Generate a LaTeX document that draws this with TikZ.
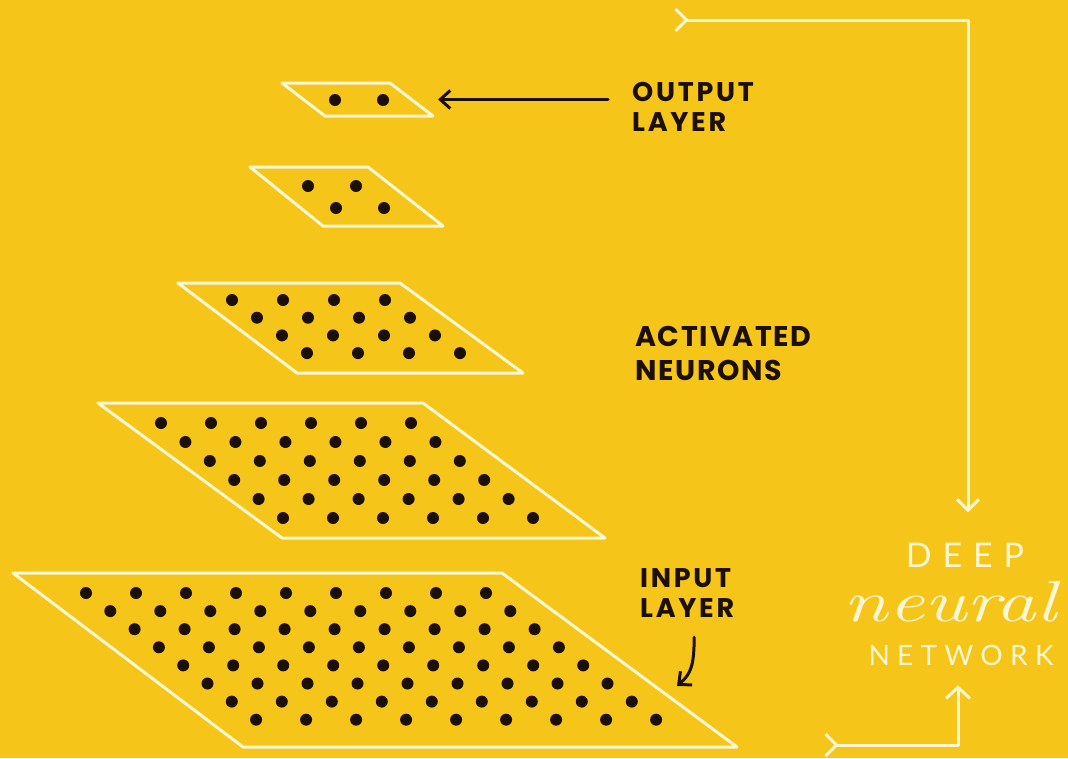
\documentclass[tikz,border=0pt]{standalone}
\usepackage{fontspec}
\usetikzlibrary{arrows.meta}
\newfontfamily\lblfont{Poppins}[LetterSpace=10]
\newfontfamily\actfont{Poppins}[LetterSpace=6]
\newfontfamily\thinfont{Lato}[LetterSpace=32]
\newfontfamily\netfont{Lato}[LetterSpace=26]
\definecolor{bg}{HTML}{F5C51A}
\definecolor{chalk}{HTML}{FFF6D2}
\definecolor{ink}{HTML}{1C0F08}
\begin{document}
\begin{tikzpicture}[x=1pt,y=-1pt,
  layer/.style={draw=chalk,line width=3pt,line join=round},
  dotstyle/.style={fill=ink},
  conn/.style={draw=chalk,line width=3pt,line cap=round,line join=round},
  blk/.style={draw=ink,line width=3pt,line cap=round},
  lbl/.style={text=ink,inner sep=0pt,anchor=base west,font=\lblfont\bfseries\fontsize{27}{30}\selectfont},
  big/.style={lbl,font=\actfont\bfseries\fontsize{28.5}{32}\selectfont},
  wht/.style={text=chalk,inner sep=0pt,anchor=base}
]
\useasboundingbox (0,0) rectangle (1068,758);
\fill[bg] (0,0) rectangle (1068,758);

% layers
\draw[layer] (282,83) -- (390,83) -- (433,116) -- (325,116) -- cycle;
\draw[layer] (250,167) -- (368,167) -- (443,226) -- (323,226) -- cycle;
\draw[layer] (178,283) -- (400,283) -- (523,373) -- (297,373) -- cycle;
\draw[layer] (98,403) -- (423,403) -- (605,538) -- (282,538) -- cycle;
\draw[layer] (13,573) -- (502,573) -- (737,747) -- (243,747) -- cycle;
\coordinate (L1e) at (411,99.5);
\coordinate (L5p) at (677,686);

% dots
\foreach \c in {0,1} \fill[dotstyle] ({335+48*\c},100) circle (6);
\foreach \r in {0,1} \foreach \c in {0,1}
  \fill[dotstyle] ({308+28*\r+48*\c},{186+22*\r}) circle (6);
\foreach \r in {0,...,3} \foreach \c in {0,...,3}
  \fill[dotstyle] ({232+25*\r+51*\c},{300+17.7*\r}) circle (6);
\foreach \r in {0,...,5} \foreach \c in {0,...,5}
  \fill[dotstyle] ({161+24.4*\r+50*\c},{423+19*\r}) circle (6);
\foreach \r in {0,...,7} \foreach \c in {0,...,8}
  \fill[dotstyle] ({86+24.3*\r+50*\c},{593+18.1*\r}) circle (6);

% labels
\node[lbl] (out1) at (632,101) {OUTPUT};
\node[lbl] (out2) at (632,131) {LAYER};
\node[big] (act1) at (635,346) {ACTIVATED};
\node[big] (act2) at (635,380) {NEURONS};
\node[lbl] (inp1) at (640,587) {INPUT};
\node[lbl] (inp2) at (640,617) {LAYER};

\node[wht,font=\thinfont\fontsize{34}{40}\selectfont] (deep) at (965,567) {DEEP};
\node[wht,font=\fontsize{58}{64}\selectfont\itshape,xscale=1.39,transform shape] (neural) at (950,621) {neural};
\node[wht,font=\netfont\fontsize{28}{32}\selectfont] (network) at (961,665) {NETWORK};

% connectors
\draw[blk,-{Straight Barb[length=10pt,width=18pt]},shorten <=24pt,shorten >=27pt]
  (out1.west |- L1e) -- (L1e);
\draw[blk,-{Straight Barb[length=10pt,width=18pt]}]
  ([shift={(7,20)}]inp2.south) .. controls +(0,28) and +(14,-12) .. (L5p);

\coordinate (topstart) at (674,20);
\coordinate (botstart) at (824,745);
\draw[conn,{Straight Barb[reversed,length=11pt,width=22pt]}-{Straight Barb[length=11pt,width=22pt]},shorten >=30pt]
  (topstart) -| ([xshift=3pt]deep.north);
\draw[conn,{Straight Barb[reversed,length=11pt,width=22pt]}-{Straight Barb[length=11pt,width=24pt]},shorten >=20pt]
  (botstart) -| ([xshift=-3pt]network.south);
\end{tikzpicture}
\end{document}
